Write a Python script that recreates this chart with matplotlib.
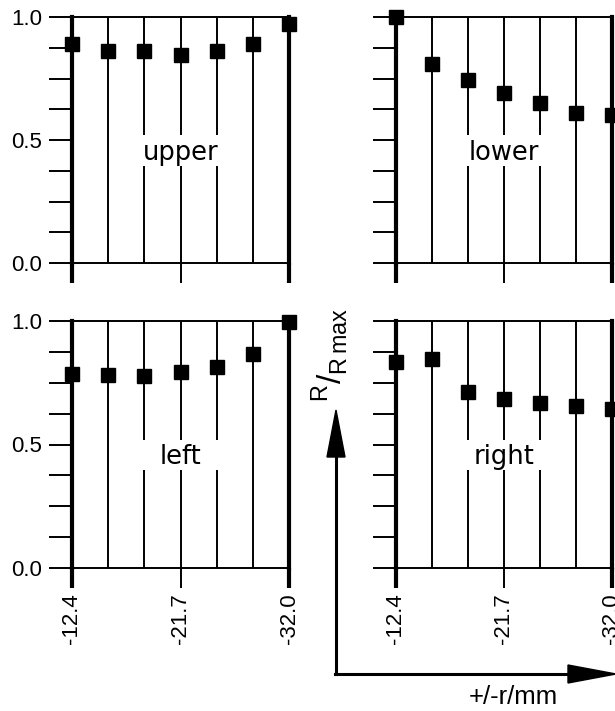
import matplotlib
matplotlib.use('Agg')
import matplotlib.pyplot as plt
import numpy as np
from matplotlib.patches import Polygon
from matplotlib.lines import Line2D

plt.rcParams['font.family'] = ['Liberation Sans', 'DejaVu Sans']
plt.rcParams['mathtext.fontset'] = 'custom'
plt.rcParams['mathtext.rm'] = 'Liberation Sans'

# ---- data ----
x_idx = [0, 1, 2, 3, 4, 5, 6]
xtick_idx = [0, 3, 6]
xtick_labels = ['-12.4', '-21.7', '-32.0']
upper = [0.89, 0.86, 0.86, 0.845, 0.86, 0.89, 0.97]
lower = [1.0, 0.81, 0.745, 0.69, 0.65, 0.61, 0.60]
left = [0.785, 0.783, 0.778, 0.793, 0.814, 0.865, 0.995]
right = [0.835, 0.845, 0.712, 0.686, 0.668, 0.655, 0.645]
panel_names = ['upper', 'lower', 'left', 'right']
panel_values = [upper, lower, left, right]
ytick_labels = {0.0: '0.0', 0.5: '0.5', 1.0: '1.0'}

W, H = 615, 711
fig = plt.figure(figsize=(W / 100, H / 100), dpi=100)


def rect(l, r, t, b):
    return [l / W, 1 - b / H, (r - l) / W, (b - t) / H]


rects = [rect(72, 289, 17, 263), rect(396, 612, 17, 263),
         rect(72, 289, 321, 568), rect(396, 612, 321, 568)]

thin = 1.4
thick = 3.0
gap_lo, gap_hi = 0.395, 0.52

for i, (name, vals, r) in enumerate(zip(panel_names, panel_values, rects)):
    ax = fig.add_axes(r)
    ax.set_xlim(0, 6)
    ax.set_ylim(0, 1)
    for s in ['left', 'right']:
        ax.spines[s].set_linewidth(thick)
    for s in ['top', 'bottom']:
        ax.spines[s].set_linewidth(thin)
    # vertical grid lines
    for xi in x_idx[1:-1]:
        if xi in (2, 3, 4):
            ax.plot([xi, xi], [0, gap_lo], color='black', lw=thin, solid_capstyle='butt')
            ax.plot([xi, xi], [gap_hi, 1], color='black', lw=thin, solid_capstyle='butt')
        else:
            ax.plot([xi, xi], [0, 1], color='black', lw=thin, solid_capstyle='butt')
    ax.plot(x_idx, vals, linestyle='none', marker='s', ms=10.5,
            color='black', clip_on=False, zorder=5)
    ax.text(3, 0.42, name, ha='center', va='baseline', fontsize=18.5,
            family='DejaVu Sans')
    yt = np.arange(0, 1.0001, 0.125)
    ax.set_yticks(yt)
    if i % 2 == 0:
        ax.set_yticklabels([ytick_labels.get(round(v, 3), '') for v in yt])
    else:
        ax.set_yticklabels([])
    ax.tick_params(axis='y', direction='out', length=16.5, width=thin,
                   labelsize=16, pad=5)
    ax.set_xticks(xtick_idx)
    if i >= 2:
        ax.set_xticklabels(xtick_labels, rotation=90)
    else:
        ax.set_xticklabels([])
    ax.tick_params(axis='x', direction='out', length=14.5, width=thin,
                   labelsize=16, pad=3.5)
    ticks = ax.xaxis.get_major_ticks()
    ticks[0].tick1line.set_markeredgewidth(thick)
    ticks[2].tick1line.set_markeredgewidth(thick)


def fx(px):
    return px / W


def fy(py):
    return 1 - py / H


# axis arrows
lw_arrow = 2.2
fig.add_artist(Line2D([fx(336), fx(336)], [fy(674), fy(455)], color='black',
                      lw=lw_arrow, transform=fig.transFigure))
fig.add_artist(Polygon([[fx(327), fy(457)], [fx(345), fy(457)], [fx(336), fy(410)]],
                       closed=True, color='black', transform=fig.transFigure))
fig.add_artist(Line2D([fx(335), fx(570)], [fy(674), fy(674)], color='black',
                      lw=lw_arrow, transform=fig.transFigure))
fig.add_artist(Polygon([[fx(568), fy(665)], [fx(568), fy(683)], [fx(616), fy(674)]],
                       closed=True, color='black', transform=fig.transFigure))

fig.text(fx(513), fy(697), '+/-r/mm', ha='center', va='center', fontsize=18.5)
fig.text(fx(330), fy(355), r'$^\mathregular{R}/_\mathregular{R\,max}$', rotation=90,
         ha='center', va='center', fontsize=24)

fig.savefig('out.png', dpi=100)
